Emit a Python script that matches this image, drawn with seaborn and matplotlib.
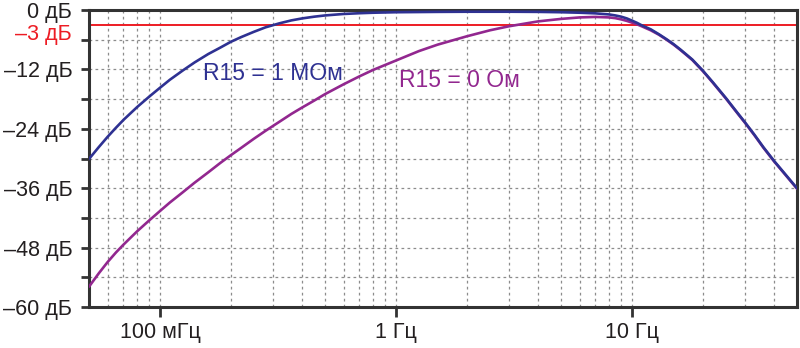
import numpy as np
import pandas as pd
import matplotlib
matplotlib.use("Agg")
import matplotlib.pyplot as plt
import matplotlib.ticker as mticker
import matplotlib.transforms as mtrans
import seaborn as sns

# ---- data ----
freq_1meg_hz = [0.05, 0.055, 0.06, 0.065, 0.07, 0.08, 0.09, 0.1, 0.11, 0.125, 0.14, 0.16,
                0.18, 0.2, 0.22, 0.25, 0.28, 0.32, 0.36, 0.4, 0.45, 0.5, 0.6, 0.7, 0.8, 1.0,
                1.5, 2.0, 3.0, 4.0, 5.0, 6.0, 7.0, 8.0, 8.5, 9.0, 9.5, 10.0, 10.5, 11.0, 12.0,
                13.0, 14.0, 15.0, 16.0, 17.0, 18.0, 20.0, 22.0, 25.0, 28.0, 30.0, 33.0, 36.0,
                40.0, 45.0, 50.0]
gain_1meg_db = [-30.1, -27.7, -25.6, -23.8, -22.2, -19.6, -17.5, -15.7, -14.1, -12.2, -10.6, -8.9,
                -7.6, -6.4, -5.5, -4.4, -3.5, -2.7, -2.1, -1.7, -1.35, -1.1, -0.8, -0.65, -0.55, -0.45,
                -0.38, -0.35, -0.35, -0.38, -0.45, -0.55, -0.68, -0.9, -1.1, -1.35, -1.7, -2.15, -2.6, -3.1, -3.9,
                -4.9, -5.9, -6.9, -7.95, -9.0, -10.0, -12.3, -14.6, -17.8, -20.8, -22.6, -25.2, -27.7,
                -30.5, -33.4, -36.0]
freq_0ohm_hz = [0.05, 0.055, 0.06, 0.065, 0.07, 0.08, 0.09, 0.1, 0.11, 0.125, 0.14, 0.16,
                0.18, 0.2, 0.22, 0.25, 0.28, 0.32, 0.36, 0.4, 0.45, 0.5, 0.6, 0.7, 0.8, 1.0,
                1.25, 1.5, 2.0, 2.5, 3.0, 4.0, 5.0, 6.0, 7.0, 8.0, 8.5, 9.0, 9.5, 10.0, 10.5, 11.0,
                12.0, 13.0, 14.0, 15.0, 16.0, 17.0, 18.0, 20.0, 22.0, 25.0, 28.0, 30.0, 33.0, 36.0,
                40.0, 45.0, 50.0]
gain_0ohm_db = [-55.9, -53.2, -50.9, -49.0, -47.4, -44.7, -42.5, -40.6, -38.9, -36.8, -34.9, -32.8,
                -30.9, -29.3, -27.9, -26.0, -24.4, -22.6, -21.0, -19.7, -18.3, -17.0, -15.0, -13.4, -12.1, -10.2,
                -8.3, -7.0, -5.3, -4.1, -3.3, -2.3, -1.8, -1.5, -1.4, -1.5, -1.65, -1.9, -2.2, -2.55, -2.9, -3.3,
                -4.1, -5.0, -6.0, -7.0, -8.05, -9.1, -10.1, -12.4, -14.7, -17.9, -20.9, -22.7, -25.3, -27.8,
                -30.6, -33.5, -36.1]
series_names = ["R15 = 1 MОм", "R15 = 0 Ом"]
series_colors = ["#2e3192", "#92278f"]
y_ticks = [0, -12, -24, -36, -48, -60]
y_tick_labels = ["0 дБ", "–12 дБ", "–24 дБ", "–36 дБ", "–48 дБ", "–60 дБ"]
x_ticks = [0.1, 1, 10]
x_tick_labels = ["100 мГц", "1 Гц", "10 Гц"]
ref_level_db = -3
ref_label = "–3 дБ"

df = pd.concat([
    pd.DataFrame({"f": freq_0ohm_hz, "g": gain_0ohm_db, "s": series_names[1]}),
    pd.DataFrame({"f": freq_1meg_hz, "g": gain_1meg_db, "s": series_names[0]}),
], ignore_index=True)

sns.set_style("white")
plt.rcParams["font.family"] = ["Liberation Sans", "DejaVu Sans"]

fig = plt.figure(figsize=(8, 3.48), dpi=100)
ax = fig.add_axes([89 / 800, 1 - 307 / 348, (797 - 89) / 800, (307 - 10) / 348])

ax.axhline(ref_level_db, color="#ed1c24", lw=1.4, zorder=2)

palette = dict(zip(series_names, series_colors))
sns.lineplot(data=df, x="f", y="g", hue="s", palette=palette,
             hue_order=[series_names[1], series_names[0]],
             linewidth=1.9, legend=False, ax=ax, zorder=3, sort=False)

ax.set_xscale("log")
ax.set_xlim(0.05, 50)
ax.set_ylim(-60, 0)

ax.xaxis.set_major_locator(mticker.FixedLocator(x_ticks))
ax.xaxis.set_major_formatter(mticker.FixedFormatter(x_tick_labels))
ax.xaxis.set_minor_locator(mticker.LogLocator(base=10, subs=np.arange(2, 10)))
ax.xaxis.set_minor_formatter(mticker.NullFormatter())

ax.yaxis.set_major_locator(mticker.FixedLocator(y_ticks))
ax.yaxis.set_major_formatter(mticker.FixedFormatter(y_tick_labels))
ax.yaxis.set_minor_locator(mticker.MultipleLocator(6))

ax.grid(True, which="both", color="#8c8c8c", linestyle=(0, (2.2, 2.6)), linewidth=0.9, zorder=1)
ax.set_axisbelow(True)

ax.tick_params(axis="y", which="both", direction="out", length=6, width=2, color="#333333",
               left=True, labelsize=15.5, labelcolor="#231f20", pad=6)
ax.tick_params(axis="x", which="major", direction="out", length=7, width=2, color="#333333",
               bottom=True, labelsize=15.5, labelcolor="#231f20", pad=4)
ax.tick_params(axis="x", which="minor", length=0)

for sp in ax.spines.values():
    sp.set_visible(True)
    sp.set_color("#333333")
    sp.set_linewidth(2.2)

ax.set_xlabel("")
ax.set_ylabel("")

trans = mtrans.blended_transform_factory(ax.transAxes, ax.transData)
ax.annotate(ref_label, xy=(0, -4.85), xycoords=trans, xytext=(-12.5, 0),
            textcoords="offset points", ha="right", va="center", color="#ed1c24",
            fontsize=15.5)

ax.text(0.30, -14.1, series_names[0], color=series_colors[0], fontsize=16.5,
        ha="center", va="baseline", zorder=5)
ax.text(1.86, -15.5, series_names[1], color=series_colors[1], fontsize=16.5,
        ha="center", va="baseline", zorder=5)

fig.savefig("out.png", dpi=100)
